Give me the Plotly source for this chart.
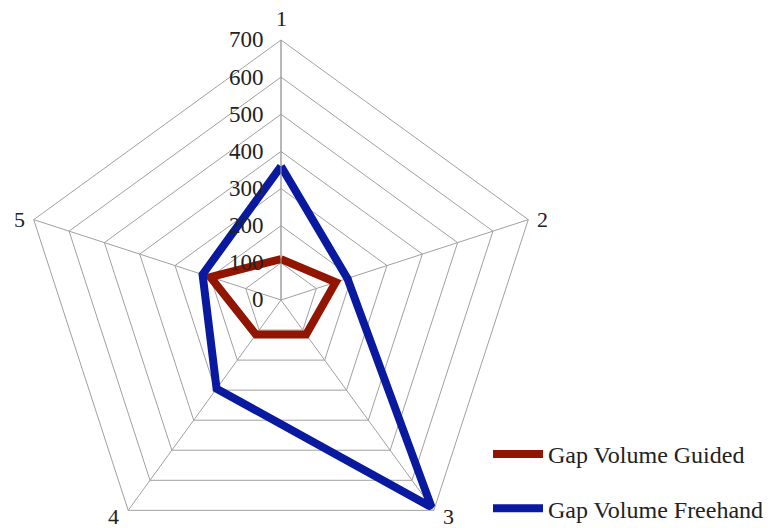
import math
import plotly.graph_objects as go

# Axis categories (spokes) and measured gap volumes per series
categories = ["1", "2", "3", "4", "5"]
guided = [110, 155, 115, 115, 200]
freehand = [360, 188, 690, 295, 222]
radial_ticks = [0, 100, 200, 300, 400, 500, 600, 700]

SERIF = "Liberation Serif, Times New Roman, serif"
GRID = "#a0a0a0"
TEXT = "#222222"

W, H = 772, 600
CX, CY, R = 281, 300, 260          # polar centre / outer radius in pixels
LABEL_GAP = 7                      # spacing between spoke tip and its label


def closed(values):
    return list(values) + [values[0]]


fig = go.Figure()
fig.add_trace(go.Scatterpolar(
    r=closed(guided), theta=closed(categories), mode="lines",
    name="Gap Volume Guided", legendgroup="g",
    line=dict(color="#921500", width=8),
))
fig.add_trace(go.Scatterpolar(
    r=closed(freehand), theta=closed(categories), mode="lines",
    name="Gap Volume Freehand", legendgroup="f",
    line=dict(color="#0a1aa0", width=8),
))

# Category labels sit just outside each spoke tip, anchored away from the centre
annotations = []
for i, cat in enumerate(categories):
    ang = math.radians(90 - 360 * i / len(categories))
    dx, dy = math.cos(ang), math.sin(ang)
    px = CX + R * dx
    py = CY - R * dy
    if abs(dx) < 0.2:
        xa = "center"
    else:
        xa = "left" if dx > 0 else "right"
    if dy > 0.8:
        ya = "bottom"
    elif dy < -0.5:
        ya = "top"
    else:
        ya = "middle"
    ox = LABEL_GAP * (1 if xa == "left" else -1 if xa == "right" else 0)
    oy = {"bottom": LABEL_GAP, "top": 8, "middle": 0}[ya]
    annotations.append(dict(
        text=cat, xref="paper", yref="paper",
        x=(px + ox) / W, y=1 - (py - oy) / H,
        xanchor=xa, yanchor=ya, showarrow=False,
        font=dict(family=SERIF, size=22, color=TEXT),
    ))

fig.update_layout(
    width=W, height=H,
    margin=dict(l=0, r=0, t=0, b=0),
    paper_bgcolor="white", plot_bgcolor="white",
    font=dict(family=SERIF, size=22, color=TEXT),
    polar=dict(
        domain=dict(x=[(CX - R) / W, (CX + R) / W], y=[0, 1]),
        gridshape="linear",
        bgcolor="white",
        radialaxis=dict(
            range=[0, 700], tickvals=radial_ticks,
            ticktext=[str(v) for v in radial_ticks],
            angle=90, tickangle=90, side="counterclockwise",
            showline=True, linecolor=GRID, linewidth=1,
            gridcolor=GRID, gridwidth=1,
            # invisible tick marks keep the value labels clear of the spoke
            ticks="outside", ticklen=9, tickcolor="rgba(0,0,0,0)",
            tickfont=dict(family=SERIF, size=23, color=TEXT),
        ),
        angularaxis=dict(
            type="category", categoryarray=categories,
            rotation=90, direction="clockwise",
            showline=True, linecolor=GRID, linewidth=1,
            gridcolor=GRID, gridwidth=1, ticks="",
            showticklabels=False,
        ),
    ),
    annotations=annotations,
    legend=dict(
        x=488 / W, y=1 - 432 / H, xanchor="left", yanchor="top",
        font=dict(family=SERIF, size=24, color=TEXT),
        itemwidth=50,
        tracegroupgap=20, bgcolor="rgba(0,0,0,0)",
    ),
    showlegend=True,
)

fig.write_html(
    "out.html",
    post_script=(
        "document.documentElement.style.overflow='hidden';"
        "document.body.style.overflow='hidden';"
        "document.body.style.margin='0';"
    ),
)
